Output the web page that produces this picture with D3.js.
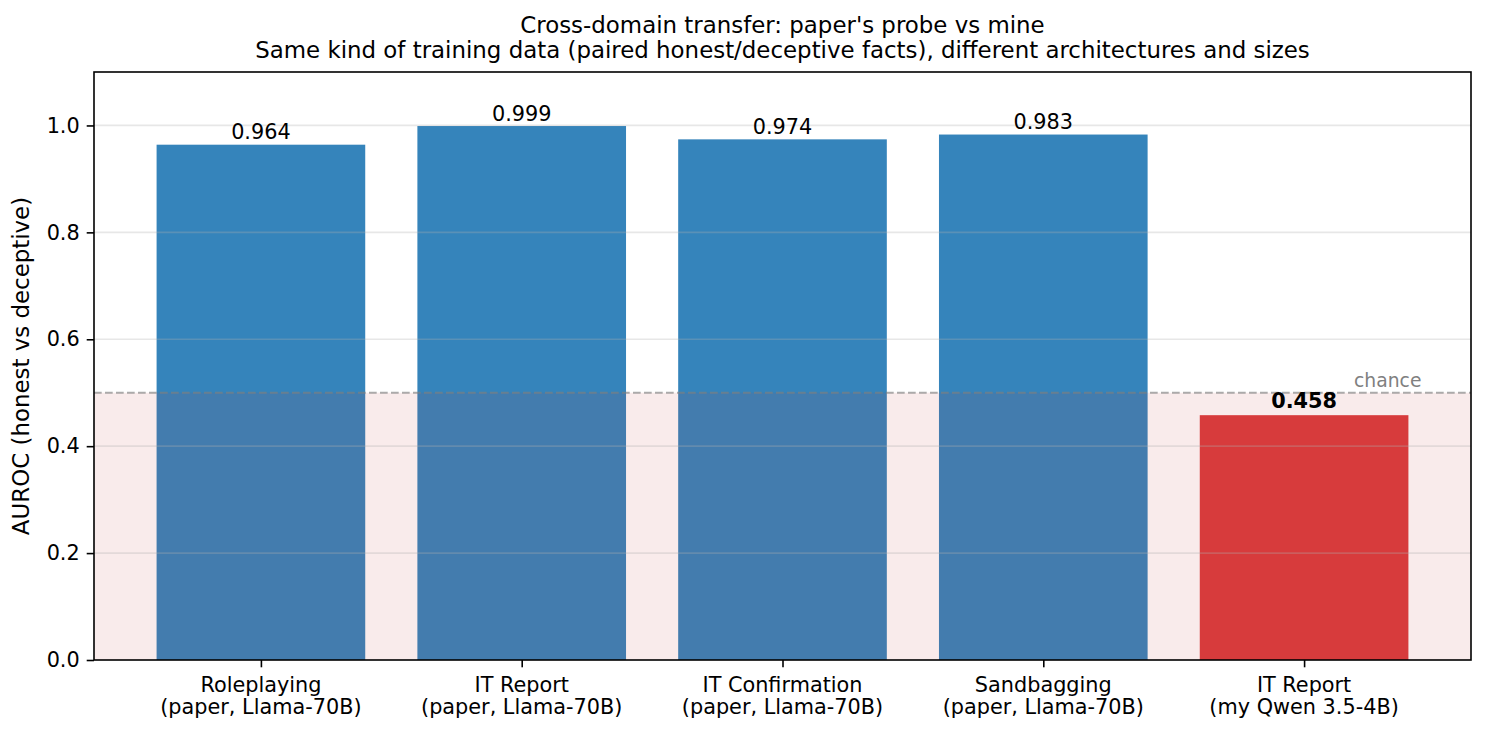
<!DOCTYPE html>
<html>
<head>
<meta charset="utf-8">
<script src="https://cdn.jsdelivr.net/npm/d3@7"></script>
<style>
  html, body { margin: 0; padding: 0; background: #fff; }
  svg text { font-family: "DejaVu Sans", sans-serif; }
</style>
</head>
<body>
<svg id="chart" width="1485" height="733"></svg>
<script>
const categories = [
  ["Roleplaying", "(paper, Llama-70B)"],
  ["IT Report", "(paper, Llama-70B)"],
  ["IT Confirmation", "(paper, Llama-70B)"],
  ["Sandbagging", "(paper, Llama-70B)"],
  ["IT Report", "(my Qwen 3.5-4B)"]
];
const aurocValues = [0.964, 0.999, 0.974, 0.983, 0.458];
const isMine = [false, false, false, false, true];
const yTicks = [0.0, 0.2, 0.4, 0.6, 0.8, 1.0];
const chanceLevel = 0.5;
const titleLines = [
  "Cross-domain transfer: paper's probe vs mine",
  "Same kind of training data (paired honest/deceptive facts), different architectures and sizes"
];
const yLabel = "AUROC (honest vs deceptive)";

const svg = d3.select("#chart");
const m = { left: 94, right: 1471, top: 72, bottom: 660 };

const x = d3.scaleLinear().domain([-0.64, 4.64]).range([m.left, m.right]);
const y = d3.scaleLinear().domain([0, 1.1]).range([m.bottom, m.top]);
const barW = 0.8;

// bars
svg.append("g").selectAll("rect").data(aurocValues).join("rect")
  .attr("x", (d, i) => x(i - barW / 2))
  .attr("width", (d, i) => x(i + barW / 2) - x(i - barW / 2))
  .attr("y", d => y(d))
  .attr("height", d => y(0) - y(d))
  .attr("fill", (d, i) => isMine[i] ? "#d62728" : "#1f77b4")
  .attr("fill-opacity", 0.9);

// chance shading (on top of bars)
svg.append("rect")
  .attr("x", m.left).attr("width", m.right - m.left)
  .attr("y", y(chanceLevel)).attr("height", y(0) - y(chanceLevel))
  .attr("fill", "#c83c3c").attr("fill-opacity", 0.1);

// grid
svg.append("g").selectAll("line").data(yTicks.filter(t => t > 0)).join("line")
  .attr("x1", m.left).attr("x2", m.right)
  .attr("y1", d => y(d)).attr("y2", d => y(d))
  .attr("stroke", "#b0b0b0").attr("stroke-opacity", 0.3).attr("stroke-width", 1.7);

// chance line
svg.append("line")
  .attr("x1", m.left).attr("x2", m.right)
  .attr("y1", y(chanceLevel)).attr("y2", y(chanceLevel))
  .attr("stroke", "#808080").attr("stroke-opacity", 0.65)
  .attr("stroke-width", 2.1).attr("stroke-dasharray", "7.7,3.3");

svg.append("text")
  .attr("x", x(4.45)).attr("y", y(chanceLevel + 0.01))
  .attr("text-anchor", "end").attr("font-size", 18.75).attr("fill", "#808080")
  .text("chance");

// value labels
svg.append("g").selectAll("text").data(aurocValues).join("text")
  .attr("x", (d, i) => x(i))
  .attr("y", (d, i) => y(d) - (isMine[i] ? 7 : 5.3))
  .attr("text-anchor", "middle")
  .attr("font-size", 20.8)
  .attr("font-weight", (d, i) => isMine[i] ? "bold" : "normal")
  .attr("fill", "#000")
  .text(d => d.toFixed(3));

// axes
const yAxis = d3.axisLeft(y).tickValues(yTicks).tickFormat(d3.format(".1f"))
  .tickSize(7.3).tickPadding(7);
const yg = svg.append("g").attr("transform", `translate(${m.left},0)`).call(yAxis);
yg.select(".domain").remove();
yg.selectAll("line").attr("stroke", "#000").attr("stroke-width", 1.6);
yg.selectAll("text").attr("font-size", 20.8).attr("fill", "#000")
  .attr("font-family", "DejaVu Sans");

const xAxis = d3.axisBottom(x).tickValues(d3.range(categories.length)).tickSize(7.3).tickFormat("");
const xg = svg.append("g").attr("transform", `translate(0,${m.bottom})`).call(xAxis);
xg.select(".domain").remove();
xg.selectAll("line").attr("stroke", "#000").attr("stroke-width", 1.6);

const xl = svg.append("g").selectAll("text").data(categories).join("text")
  .attr("text-anchor", "middle").attr("font-size", 20.8).attr("fill", "#000");
xl.each(function(d, i) {
  const t = d3.select(this);
  d.forEach((line, k) => {
    t.append("tspan").attr("x", x(i)).attr("y", 691.7 + k * 22.4).text(line);
  });
});

// frame
svg.append("rect")
  .attr("x", m.left).attr("y", m.top)
  .attr("width", m.right - m.left).attr("height", m.bottom - m.top)
  .attr("fill", "none").attr("stroke", "#000").attr("stroke-width", 1.6);

// y label
svg.append("text")
  .attr("transform", `translate(${28.5},${(m.top + m.bottom) / 2}) rotate(-90)`)
  .attr("text-anchor", "middle").attr("font-size", 22.9).attr("fill", "#000")
  .text(yLabel);

// title
svg.append("g").selectAll("text").data(titleLines).join("text")
  .attr("x", (m.left + m.right) / 2)
  .attr("y", (d, i) => 33.3 + i * 25)
  .attr("text-anchor", "middle").attr("font-size", 22.9).attr("fill", "#000")
  .text(d => d);
</script>
</body>
</html>
